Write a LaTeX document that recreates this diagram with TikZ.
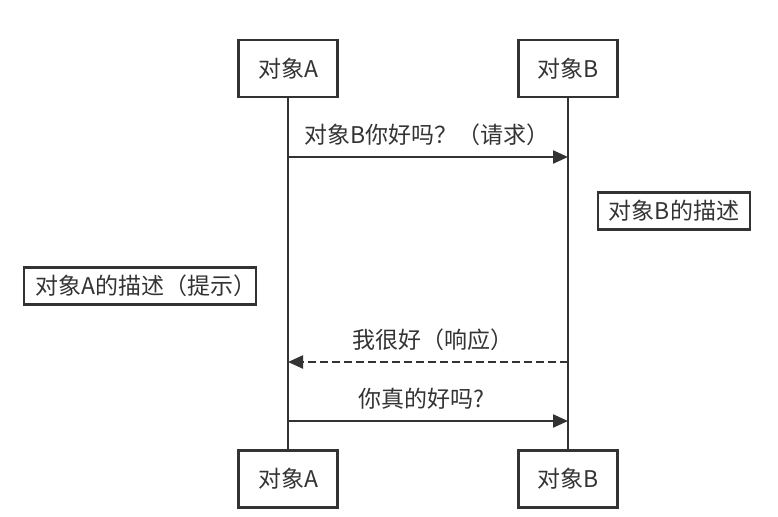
\documentclass[tikz,border=0pt]{standalone}
\usepackage{fontspec}
\setmainfont{Noto Sans CJK SC}
\usetikzlibrary{arrows.meta}
\definecolor{ink}{HTML}{333333}
\newcommand{\trim}{\kern-12pt}
\begin{document}
\begin{tikzpicture}[x=1pt,y=-1pt,
  every node/.style={font=\fontsize{23}{26}\selectfont, text=ink},
  actor/.style={draw=ink, line width=2.6pt, minimum width=99pt, minimum height=57pt, inner sep=0pt},
  notebox/.style={draw=ink, line width=2.6pt, inner sep=0pt, minimum height=37pt},
  life/.style={draw=ink, line width=2.3pt},
  msg/.style={draw=ink, line width=2.3pt, -{Triangle[length=15pt,width=13pt]}},
  lbl/.style={inner sep=0pt}
]
\useasboundingbox (0,0) rectangle (778,516);
\node[actor] (a1) at (288,68.5) {对象A};
\node[actor] (b1) at (568,68.5) {对象B};
\node[actor] (a2) at (288,479) {对象A};
\node[actor] (b2) at (568,479) {对象B};
\draw[life] (a1.south) -- (a2.north);
\draw[life] (b1.south) -- (b2.north);
\coordinate (m1a) at (288,157);
\coordinate (m1b) at (568,157);
\coordinate (m2a) at (288,362);
\coordinate (m2b) at (568,362);
\coordinate (m3a) at (288,421);
\coordinate (m3b) at (568,421);
\draw[msg] (m1a) -- (m1b);
\draw[msg, dash pattern=on 8pt off 4pt] (m2b) -- (m2a);
\draw[msg] (m3a) -- (m3b);
\node[lbl] (t1) at (421,135) {对象B你好吗？（请求）\trim};
\node[lbl] (t2) at (427,340) {我很好（响应）\trim};
\node[lbl] (t3) at (421,399) {你真的好吗?};
\node[notebox, minimum width=152pt] (nb) at (674,211) {对象B的描述};
\node[notebox, minimum width=232pt] (na) at (140,286) {对象A的描述（提示）\trim};
\end{tikzpicture}
\end{document}
